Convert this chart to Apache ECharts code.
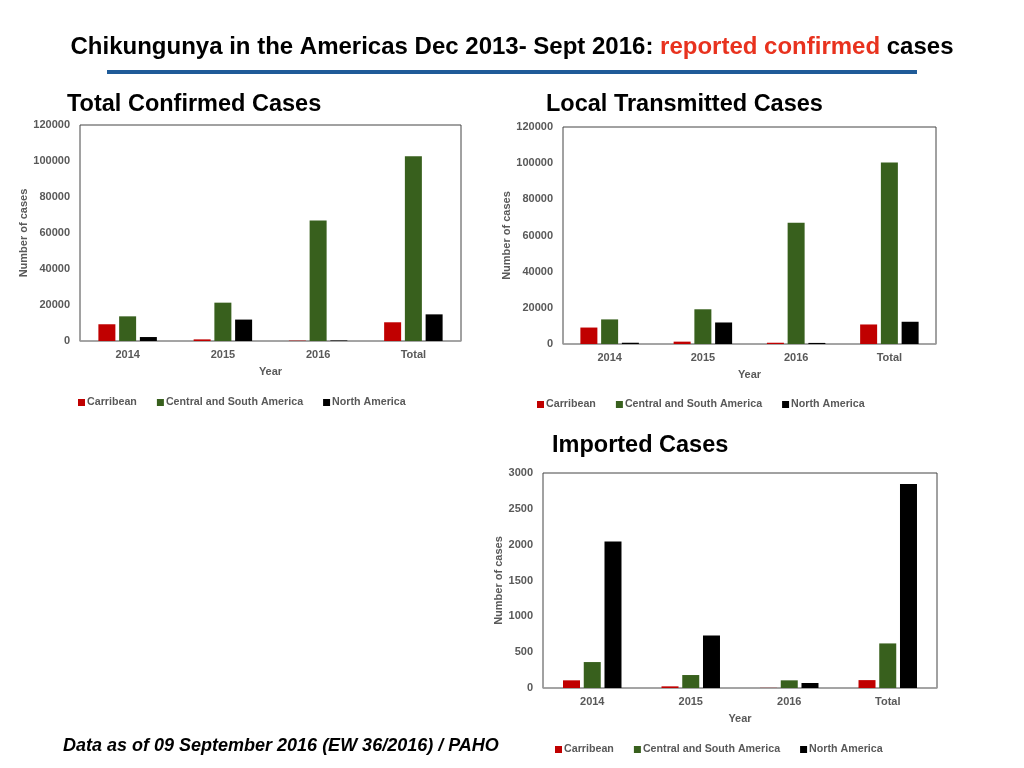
<!DOCTYPE html>
<html>
<head>
<meta charset="utf-8">
<script src="https://cdn.jsdelivr.net/npm/echarts@6/dist/echarts.min.js"></script>
<style>
  html, body { margin: 0; padding: 0; background: #fff; }
  #main { width: 1024px; height: 768px; }
</style>
</head>
<body>
<div id="main"></div>
<script>
// categories and series values
var categories = ['2014', '2015', '2016', 'Total'];
var seriesNames = ['Carribean', 'Central and South America', 'North America'];
var seriesColors = ['#c00000', '#38601d', '#000000'];

var totalCaribbean = [9300, 900, 200, 10400];
var totalCentralSouth = [13700, 21300, 67000, 102600];
var totalNorth = [2200, 11900, 300, 14800];

var localCaribbean = [9100, 1300, 700, 10800];
var localCentralSouth = [13600, 19200, 67000, 100300];
var localNorth = [700, 11900, 600, 12300];

var importedCaribbean = [107, 23, 2, 110];
var importedCentralSouth = [362, 181, 107, 622];
var importedNorth = [2043, 734, 70, 2847];

var font = 'Liberation Sans, Arial, sans-serif';
var tickGray = '#595959';

function xAxisFor(gridIndex) {
    return {
        type: 'category', gridIndex: gridIndex, data: categories,
        name: 'Year', nameLocation: 'middle', nameGap: 25,
        nameTextStyle: { color: tickGray, fontWeight: 'bold', fontSize: 11, fontFamily: font },
        axisLine: { lineStyle: { color: '#a6a6a6', width: 1.5 } },
        axisTick: { show: false },
        axisLabel: { color: tickGray, fontWeight: 'bold', fontSize: 11, fontFamily: font, margin: 8 }
    };
}

function yAxisFor(gridIndex, max, interval, gap) {
    return {
        type: 'value', gridIndex: gridIndex, min: 0, max: max, interval: interval,
        name: 'Number of cases', nameLocation: 'middle', nameGap: gap,
        nameTextStyle: { color: tickGray, fontWeight: 'bold', fontSize: 11, fontFamily: font },
        splitLine: { show: false },
        axisLine: { show: false },
        axisTick: { show: false },
        axisLabel: {
            color: tickGray, fontWeight: 'bold', fontSize: 11, fontFamily: font, margin: 10,
            formatter: function (v) { return String(v); }
        }
    };
}

function barsFor(gridIndex, lists) {
    return lists.map(function (values, i) {
        return {
            name: seriesNames[i], type: 'bar',
            xAxisIndex: gridIndex, yAxisIndex: gridIndex,
            data: values, barWidth: 17, barGap: '22%',
            itemStyle: { color: seriesColors[i] }
        };
    });
}

function legendAt(left, top) {
    return {
        left: left, top: top, data: seriesNames,
        icon: 'rect', itemWidth: 7, itemHeight: 7, itemGap: 20,
        textStyle: { color: tickGray, fontWeight: 'bold', fontSize: 10.7, fontFamily: font, padding: [0, 0, 0, -3] }
    };
}

var chart = echarts.init(document.getElementById('main'));
chart.setOption({
    animation: false,
    title: [
        {
            text: 'Chikungunya in the Americas Dec 2013- Sept 2016: {r|reported confirmed} cases',
            left: 'center', top: 30,
            textStyle: {
                fontFamily: font, fontSize: 24, fontWeight: 'bold', color: '#000',
                rich: { r: { fontFamily: font, fontSize: 24, fontWeight: 'bold', color: '#e8321e' } }
            }
        },
        { text: 'Total Confirmed Cases', left: 62, top: 88,
          textStyle: { fontFamily: font, fontSize: 23.5, fontWeight: 'bold', color: '#000' } },
        { text: 'Local Transmitted Cases', left: 541, top: 88,
          textStyle: { fontFamily: font, fontSize: 23.5, fontWeight: 'bold', color: '#000' } },
        { text: 'Imported Cases', left: 547, top: 429,
          textStyle: { fontFamily: font, fontSize: 23.5, fontWeight: 'bold', color: '#000' } },
        { text: 'Data as of 09 September 2016 (EW 36/2016) / PAHO', left: 58, top: 732,
          textStyle: { fontFamily: font, fontSize: 18, fontWeight: 'bold', fontStyle: 'italic', color: '#000' } }
    ],
    graphic: [
        { type: 'rect', shape: { x: 107, y: 70, width: 810, height: 4 }, style: { fill: '#1f5b98' } }
    ],
    legend: [legendAt(73, 392), legendAt(532, 394), legendAt(550, 739)],
    grid: [
        { left: 80, top: 125, width: 381, height: 216, show: true, borderColor: '#444', borderWidth: 1 },
        { left: 563, top: 127, width: 373, height: 217, show: true, borderColor: '#444', borderWidth: 1 },
        { left: 543, top: 473, width: 394, height: 215, show: true, borderColor: '#444', borderWidth: 1 }
    ],
    xAxis: [xAxisFor(0), xAxisFor(1), xAxisFor(2)],
    yAxis: [
        yAxisFor(0, 120000, 20000, 50),
        yAxisFor(1, 120000, 20000, 50),
        yAxisFor(2, 3000, 500, 37)
    ],
    series: [].concat(
        barsFor(0, [totalCaribbean, totalCentralSouth, totalNorth]),
        barsFor(1, [localCaribbean, localCentralSouth, localNorth]),
        barsFor(2, [importedCaribbean, importedCentralSouth, importedNorth])
    )
});
</script>
</body>
</html>
